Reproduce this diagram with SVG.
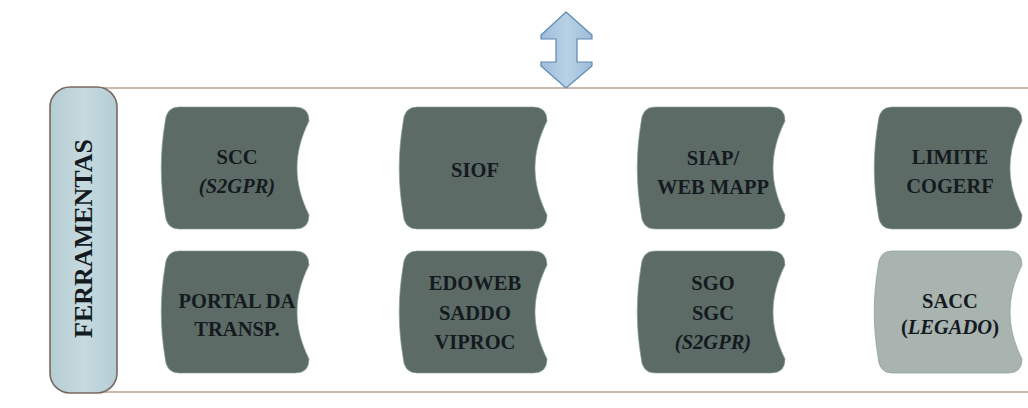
<svg xmlns="http://www.w3.org/2000/svg" width="1028" height="408" viewBox="0 0 1028 408">
  <defs>
    <linearGradient id="arrowGrad" x1="0" y1="0" x2="1" y2="0">
      <stop offset="0" stop-color="#9dbcd9"/>
      <stop offset="0.5" stop-color="#b9d1e6"/>
      <stop offset="1" stop-color="#9dbcd9"/>
    </linearGradient>
    <linearGradient id="headGrad" x1="0" y1="0" x2="1" y2="0">
      <stop offset="0" stop-color="#b4cdd3"/>
      <stop offset="0.5" stop-color="#c6dadf"/>
      <stop offset="1" stop-color="#b4cdd3"/>
    </linearGradient>
    <style>
      .node { stroke: #86a09c; stroke-width: 1; stroke-opacity: 0.7; }
      .dark { fill: #5c6b66; }
      .light { fill: #a9b3b0; }
      .lbl { font-family: "Liberation Serif", "Times New Roman", serif; font-weight: bold; font-size: 20.5px; fill: #141a1e; text-anchor: middle; }
      .it { font-style: italic; }
      .hdr { font-family: "Liberation Serif", "Times New Roman", serif; font-weight: bold; font-size: 26px; fill: #141a1e; text-anchor: middle; }
    </style>
  </defs>

  <!-- container -->
  <g id="container">
    <rect x="100" y="88" width="1000" height="304" fill="#ffffff" stroke="#cbb7af" stroke-width="2"/>
  </g>

  <!-- connectors -->
  <g id="connectors">
    <path d="M566,12 L592,35 L592,39 L577,39 L577,62 L592,62 L592,66 L566,88 L541,66 L541,62 L556,62 L556,39 L541,39 L541,35 Z" fill="url(#arrowGrad)" stroke="#5b87b3" stroke-width="1.2" stroke-linejoin="miter"/>
  </g>

  <!-- header -->
  <g id="header">
    <rect x="50" y="87" width="67" height="306" rx="20" ry="20" fill="url(#headGrad)" stroke="#7a6860" stroke-width="1.6"/>
    <text class="hdr" transform="translate(92,238.5) rotate(-90)" x="0" y="0">FERRAMENTAS</text>
  </g>

  <!-- row 1 -->
  <g id="node-scc">
    <path class="node dark" d="M179,107 L295,107 Q309,107 309,121 C293,153 293,183 309,215 Q309,229 295,229 L179,229 Q166,229 165,213 C160,183 160,153 165,123 Q166,107 179,107 Z"/>
    <text class="lbl" x="237" y="163.5">SCC</text>
    <text class="lbl it" x="237" y="192.5">(S2GPR)</text>
  </g>
  <g id="node-siof">
    <path class="node dark" d="M417,107 L533,107 Q547,107 547,121 C531,153 531,183 547,215 Q547,229 533,229 L417,229 Q404,229 403,213 C398,183 398,153 403,123 Q404,107 417,107 Z"/>
    <text class="lbl" x="475" y="177">SIOF</text>
  </g>
  <g id="node-siap">
    <path class="node dark" d="M655,107 L771,107 Q785,107 785,121 C769,153 769,183 785,215 Q785,229 771,229 L655,229 Q642,229 641,213 C636,183 636,153 641,123 Q642,107 655,107 Z"/>
    <text class="lbl" x="713" y="164.5">SIAP/</text>
    <text class="lbl" x="713" y="193.5">WEB MAPP</text>
  </g>
  <g id="node-limite">
    <path class="node dark" d="M892,107 L1008,107 Q1022,107 1022,121 C1006,153 1006,183 1022,215 Q1022,229 1008,229 L892,229 Q879,229 878,213 C873,183 873,153 878,123 Q879,107 892,107 Z"/>
    <text class="lbl" x="950" y="163.5">LIMITE</text>
    <text class="lbl" x="950" y="192.5">COGERF</text>
  </g>

  <!-- row 2 -->
  <g id="node-portal">
    <path class="node dark" d="M179,251 L295,251 Q309,251 309,265 C293,297 293,327 309,359 Q309,373 295,373 L179,373 Q166,373 165,357 C160,327 160,297 165,267 Q166,251 179,251 Z"/>
    <text class="lbl" x="237" y="307.5">PORTAL DA</text>
    <text class="lbl" x="237" y="335.5">TRANSP.</text>
  </g>
  <g id="node-edoweb">
    <path class="node dark" d="M417,251 L533,251 Q547,251 547,265 C531,297 531,327 547,359 Q547,373 533,373 L417,373 Q404,373 403,357 C398,327 398,297 403,267 Q404,251 417,251 Z"/>
    <text class="lbl" x="475" y="290">EDOWEB</text>
    <text class="lbl" x="475" y="319.5">SADDO</text>
    <text class="lbl" x="475" y="349">VIPROC</text>
  </g>
  <g id="node-sgo">
    <path class="node dark" d="M655,251 L771,251 Q785,251 785,265 C769,297 769,327 785,359 Q785,373 771,373 L655,373 Q642,373 641,357 C636,327 636,297 641,267 Q642,251 655,251 Z"/>
    <text class="lbl" x="713" y="290">SGO</text>
    <text class="lbl" x="713" y="319.5">SGC</text>
    <text class="lbl it" x="713" y="349">(S2GPR)</text>
  </g>
  <g id="node-sacc">
    <path class="node light" d="M892,251 L1008,251 Q1022,251 1022,265 C1006,297 1006,327 1022,359 Q1022,373 1008,373 L892,373 Q879,373 878,357 C873,327 873,297 878,267 Q879,251 892,251 Z"/>
    <text class="lbl" x="950" y="308">SACC</text>
    <text class="lbl" x="950" y="333.5">(<tspan class="it">LEGADO</tspan>)</text>
  </g>
</svg>
